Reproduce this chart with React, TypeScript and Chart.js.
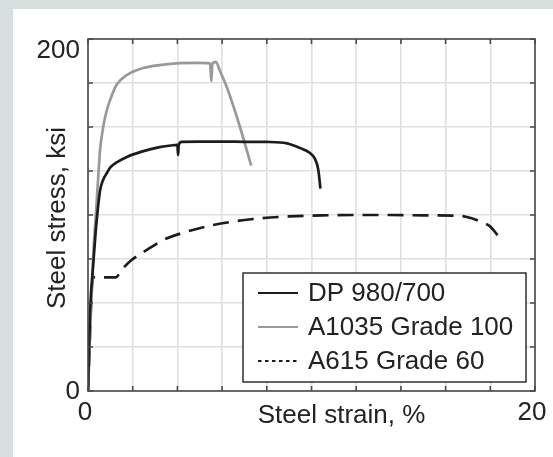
import React, { useEffect, useRef } from "react";
import { Chart, registerables } from "chart.js";

Chart.register(...registerables);

// Stress–strain curves (strain in %, stress in ksi)
const dpStrain = [0, 0.09, 0.24, 0.34, 0.42, 0.54, 0.68, 0.85, 1.0, 1.3, 1.74, 2.4, 3.2, 3.7, 4.0, 4.03, 4.06, 4.19, 5.0, 6.0, 7.0, 8.0, 8.9, 9.5, 9.9, 10.15, 10.3, 10.4];
const dpStress = [0, 44, 73, 90, 101, 114, 120, 124, 127, 130, 133, 136, 138.6, 139.5, 139.9, 134, 139.8, 141.6, 141.7, 141.7, 141.6, 141.5, 140.7, 138, 135.5, 132, 126, 115];

const a1035Strain = [0, 0.1, 0.24, 0.35, 0.46, 0.54, 0.68, 0.82, 0.98, 1.28, 1.73, 2.33, 3.2, 4.1, 4.8, 5.46, 5.52, 5.56, 5.62, 5.72, 5.9, 6.2, 6.5, 6.8, 7.1, 7.3];
const a1035Stress = [0, 36, 78, 100, 122, 137, 150, 158.5, 165, 174, 179.5, 183, 185.2, 186.3, 186.4, 186.2, 176, 185.6, 186.6, 187, 182, 173, 162, 150, 137, 128];

const a615Strain = [0, 0.22, 0.6, 1.25, 1.5, 1.95, 2.62, 3.37, 4.41, 5.6, 7.3, 9.0, 10.5, 12.0, 13.5, 15.0, 16.5, 16.9, 17.5, 18.0, 18.36];
const a615Stress = [0, 64.6, 64.6, 64.6, 68.8, 74.4, 80, 85.8, 90.5, 94.3, 97.6, 99.2, 99.8, 100, 100, 99.8, 99.6, 99, 96.6, 93.4, 88];

const seriesLabels = ["DP 980/700", "A1035 Grade 100", "A615 Grade 60"];
const xTickLabels = [0, 20];
const yTickLabels = [0, 200];
const xAxisTitle = "Steel strain, %";
const yAxisTitle = "Steel stress, ksi";

const FONT = '26px "Liberation Sans", Arial, Helvetica, sans-serif';
const TEXT = "#222222";

const toPoints = (xs: number[], ys: number[]) => xs.map((x, i) => ({ x, y: ys[i] }));

// Page backdrop, axes frame with inward tick marks, tick labels and titles
const framePlugin = {
  id: "frame",
  beforeDraw(chart: any) {
    const { ctx, width, height } = chart;
    ctx.save();
    ctx.fillStyle = "#d7e0de";
    ctx.fillRect(0, 0, width, height);
    ctx.fillStyle = "#ffffff";
    ctx.fillRect(13, 9, width - 13, height - 9);
    ctx.restore();
  },
  afterDatasetsDraw(chart: any) {
    const { ctx, chartArea: a } = chart;
    const xs = chart.scales.x;
    const ys = chart.scales.y;
    ctx.save();
    ctx.strokeStyle = "#4a4a4a";
    ctx.lineWidth = 1.6;
    ctx.strokeRect(a.left, a.top, a.right - a.left, a.bottom - a.top);
    const tl = 5;
    ctx.beginPath();
    xs.ticks.forEach((t: any) => {
      const px = xs.getPixelForValue(t.value);
      ctx.moveTo(px, a.bottom);
      ctx.lineTo(px, a.bottom - tl);
      ctx.moveTo(px, a.top);
      ctx.lineTo(px, a.top + tl);
    });
    ys.ticks.forEach((t: any) => {
      const py = ys.getPixelForValue(t.value);
      ctx.moveTo(a.left, py);
      ctx.lineTo(a.left + tl, py);
      ctx.moveTo(a.right, py);
      ctx.lineTo(a.right - tl, py);
    });
    ctx.stroke();

    ctx.fillStyle = TEXT;
    ctx.font = FONT;
    ctx.textBaseline = "alphabetic";
    // y tick labels
    ctx.textAlign = "right";
    yTickLabels.forEach((v, i) => {
      const py = ys.getPixelForValue(v);
      const dy = i === yTickLabels.length - 1 ? 19 : 8;
      ctx.fillText(String(v), a.left - 8, py + dy);
    });
    // x tick labels
    ctx.textAlign = "center";
    xTickLabels.forEach((v) => {
      const px = xs.getPixelForValue(v);
      ctx.fillText(String(v), px - 3, a.bottom + 29);
    });
    // x title
    ctx.fillText(xAxisTitle, (a.left + a.right) / 2 + 30, a.bottom + 32);
    // y title
    ctx.translate(a.left - 23, (a.top + a.bottom) / 2 + 3);
    ctx.rotate(-Math.PI / 2);
    ctx.fillText(yAxisTitle, 0, 0);
    ctx.restore();
  },
  afterDraw(chart: any) {
    const { ctx, chartArea: a } = chart;
    const box = { l: a.right - 292, t: a.bottom - 118, r: a.right - 9, b: a.bottom - 9 };
    ctx.save();
    ctx.fillStyle = "#ffffff";
    ctx.fillRect(box.l, box.t, box.r - box.l, box.b - box.t);
    ctx.strokeStyle = "#222222";
    ctx.lineWidth = 1.4;
    ctx.strokeRect(box.l, box.t, box.r - box.l, box.b - box.t);
    ctx.font = FONT;
    ctx.textAlign = "left";
    ctx.textBaseline = "middle";
    chart.data.datasets.forEach((ds: any, i: number) => {
      const y = box.t + 20 + i * 34;
      ctx.beginPath();
      ctx.strokeStyle = ds.borderColor;
      ctx.lineWidth = 1.8;
      ctx.setLineDash(ds.borderDash && ds.borderDash.length ? [3.5, 3.5] : []);
      ctx.moveTo(box.l + 15, y);
      ctx.lineTo(box.l + 55, y);
      ctx.stroke();
      ctx.setLineDash([]);
      ctx.fillStyle = TEXT;
      ctx.fillText(ds.label, box.l + 65, y + 1);
    });
    ctx.restore();
  },
};

export default function App() {
  const canvasRef = useRef<HTMLCanvasElement | null>(null);

  useEffect(() => {
    document.body.style.margin = "0";
    const canvas = canvasRef.current;
    if (!canvas) return;
    const common = { pointRadius: 0, borderWidth: 2.7, fill: false, tension: 0, cubicInterpolationMode: "monotone" as const };
    const chart = new Chart(canvas, {
      type: "scatter",
      data: {
        datasets: [
          { ...common, label: seriesLabels[0], data: toPoints(dpStrain, dpStress), borderColor: "#1c1c1c", showLine: true },
          { ...common, label: seriesLabels[1], data: toPoints(a1035Strain, a1035Stress), borderColor: "#999999", showLine: true },
          { ...common, label: seriesLabels[2], data: toPoints(a615Strain, a615Stress), borderColor: "#1c1c1c", borderDash: [16, 9], showLine: true },
        ],
      },
      options: {
        animation: false,
        responsive: false,
        devicePixelRatio: 1,
        layout: { padding: { left: 88, top: 39, right: 18, bottom: 66 } },
        plugins: { legend: { display: false }, tooltip: { enabled: false } },
        scales: {
          x: {
            type: "linear",
            min: 0,
            max: 20,
            ticks: { display: false, stepSize: 2 },
            grid: { color: "#e0e0e0", lineWidth: 1.6, drawTicks: false },
            border: { display: false },
          },
          y: {
            type: "linear",
            min: 0,
            max: 200,
            ticks: { display: false, stepSize: 25 },
            grid: { color: "#e0e0e0", lineWidth: 1.6, drawTicks: false },
            border: { display: false },
          },
        },
      },
      plugins: [framePlugin],
    });
    return () => chart.destroy();
  }, []);

  return (
    <div style={{ position: "fixed", left: 0, top: 0, width: 553, height: 457 }}>
      <canvas ref={canvasRef} width={553} height={457} style={{ display: "block" }} />
    </div>
  );
}
